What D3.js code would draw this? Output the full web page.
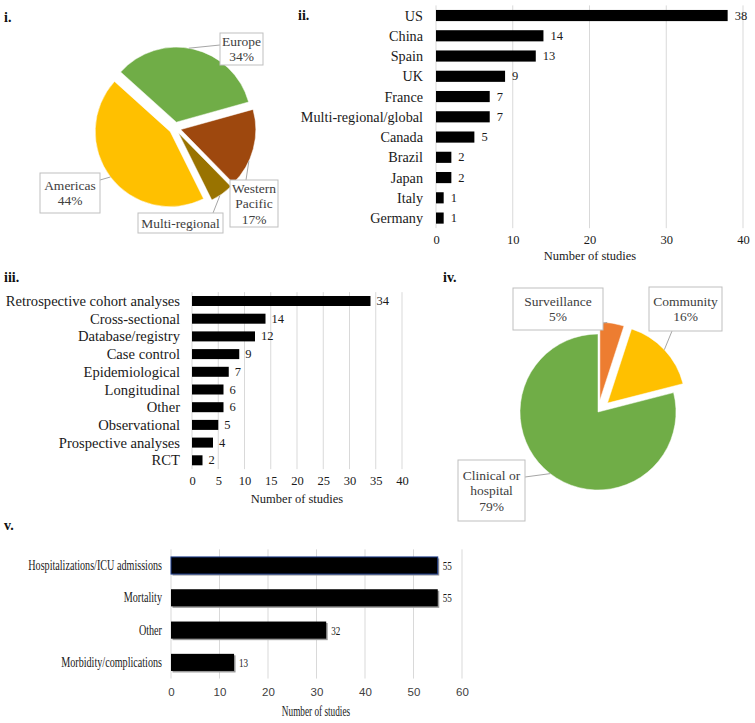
<!DOCTYPE html>
<html><head><meta charset="utf-8">
<script src="https://cdn.jsdelivr.net/npm/d3@7"></script>
<style>
body{margin:0;background:#fff;}
svg{display:block;}
</style></head>
<body>
<svg id="c" width="755" height="723"></svg>
<script>
// ---------- DATA ----------
const regionLabels = ["Europe", "Western Pacific", "Multi-regional", "Americas"];
const regionPct = [34, 17, 5, 44];
const regionColors = ["#70ad47", "#9e480e", "#997300", "#ffc000"];

const countries = ["US","China","Spain","UK","France","Multi-regional/global","Canada","Brazil","Japan","Italy","Germany"];
const countryCounts = [38,14,13,9,7,7,5,2,2,1,1];
const countryTicks = [0,10,20,30,40];

const designs = ["Retrospective cohort analyses","Cross-sectional","Database/registry","Case control","Epidemiological","Longitudinal","Other","Observational","Prospective analyses","RCT"];
const designCounts = [34,14,12,9,7,6,6,5,4,2];
const designTicks = [0,5,10,15,20,25,30,35,40];

const settingLabels = ["Surveillance","Community","Clinical or hospital"];
const settingPct = [5,16,79];
const settingColors = ["#ed7d31","#ffc000","#70ad47"];

const outcomes = ["Hospitalizations/ICU admissions","Mortality","Other","Morbidity/complications"];
const outcomeCounts = [55,55,32,13];
const outcomeTicks = [0,10,20,30,40,50,60];

const SERIF = '"Liberation Serif","Times New Roman",serif';
const SANS = '"Liberation Sans","Open Sans",sans-serif';
const svg = d3.select("#c").style("font-family", SERIF);
const deg = Math.PI/180;
const grid = "#d9d9d9";
const txt = "#1a1a1a";

function panelLabel(t, x, y){
  svg.append("text").attr("x",x).attr("y",y).style("font-family",SERIF).attr("font-weight","bold").attr("font-size",14).attr("fill","#111").text(t);
}
panelLabel("i.",4,22); panelLabel("ii.",298,20); panelLabel("iii.",4,282); panelLabel("iv.",443,282); panelLabel("v.",4,530);

// ---------- generic bar chart ----------
function barChart(o){
  const x = d3.scaleLinear().domain([0, o.ticks[o.ticks.length-1]]).range([o.x0, o.x1]);
  const y = d3.scaleBand().domain(o.cats).range([o.y0, o.y1]).paddingInner(o.pad).paddingOuter(o.pad/2);
  const g = svg.append("g");
  g.selectAll("line.grid").data(o.ticks).join("line")
    .attr("x1",d=>x(d)).attr("x2",d=>x(d)).attr("y1",o.y0).attr("y2",o.y1)
    .attr("stroke",grid).attr("stroke-width",1);
  const ax = g.append("g").attr("transform",`translate(0,${o.y1})`)
    .call(d3.axisBottom(x).tickValues(o.ticks).tickSize(0).tickPadding(o.tickPad));
  ax.select(".domain").remove();
  ax.selectAll("text").style("font-family",o.tickFont).attr("font-size",o.tickSize).attr("fill",o.tickColor);
  if(o.shadow){
    g.selectAll("rect.sh").data(o.vals).join("rect")
      .attr("x",x(0)+1.5).attr("y",(d,i)=>y(o.cats[i])+1.5)
      .attr("width",d=>x(d)-x(0)).attr("height",y.bandwidth()).attr("fill","#9a9a9a");
  }
  g.selectAll("rect.bar").data(o.vals).join("rect")
    .attr("x",x(0)).attr("y",(d,i)=>y(o.cats[i]))
    .attr("width",d=>x(d)-x(0)).attr("height",y.bandwidth()).attr("fill","#000")
    .attr("stroke",(d,i)=>o.firstStroke && i===0 ? o.firstStroke : "none").attr("stroke-width",1);
  const sx = o.sx || 1;
  g.selectAll("text.cat").data(o.cats).join("text")
    .attr("transform",d=>`translate(${x(0)-o.catGap},${y(d)+y.bandwidth()/2}) scale(${sx},1)`)
    .attr("text-anchor","end").attr("dominant-baseline","central")
    .attr("font-size",o.catSize).attr("fill",txt).text(d=>d);
  g.selectAll("text.val").data(o.vals).join("text")
    .attr("transform",(d,i)=>`translate(${x(d)+o.valGap},${y(o.cats[i])+y.bandwidth()/2}) scale(${sx},1)`)
    .attr("dominant-baseline","central")
    .attr("font-size",o.valSize).attr("fill",txt).text(d=>d);
  g.append("text").attr("transform",`translate(${o.titleX},${o.titleY}) scale(${o.titleSx||1},1)`)
    .attr("text-anchor","middle").attr("font-size",o.titleSize).attr("fill",txt).text("Number of studies");
}

barChart({cats:countries, vals:countryCounts, ticks:countryTicks, x0:436, x1:743, y0:5.4, y1:228.2, pad:0.45,
  tickPad:7, tickFont:SERIF, tickSize:12.5, tickColor:txt, catGap:13, catSize:14.2, valGap:7, valSize:12.5,
  titleX:590, titleY:260, titleSize:12.5});

barChart({cats:designs, vals:designCounts, ticks:designTicks, x0:192, x1:402, y0:292.15, y1:469.15, pad:0.435,
  tickPad:7, tickFont:SERIF, tickSize:12.5, tickColor:txt, catGap:12, catSize:14.6, valGap:6, valSize:12.5,
  titleX:297, titleY:503, titleSize:12.5});

barChart({cats:outcomes, vals:outcomeCounts, ticks:outcomeTicks, x0:171, x1:462, y0:549.35, y1:678.55, pad:0.47,
  tickPad:9, tickFont:SANS, tickSize:11.5, tickColor:"#404040", catGap:9, catSize:14.5, valGap:5, valSize:13,
  sx:0.7, shadow:true, firstStroke:"#1f3f8f", titleX:316, titleY:716, titleSize:14, titleSx:0.66});

// ---------- generic pie ----------
function pieChart(o){
  const pie = d3.pie().sort(null).value(d=>d).startAngle(o.start).endAngle(o.start+2*Math.PI);
  const arcs = pie(o.vals);
  const arc = d3.arc().innerRadius(0).outerRadius(o.r);
  const g = svg.append("g").attr("transform",`translate(${o.cx},${o.cy})`);
  arcs.forEach((a,i)=>{
    const mid = (a.startAngle+a.endAngle)/2;
    const e = o.explode[i];
    const ox = e*Math.sin(mid), oy = -e*Math.cos(mid);
    g.append("path").attr("d",arc(a)).attr("fill",o.colors[i])
      .attr("transform",`translate(${ox},${oy})`).attr("stroke","#fff").attr("stroke-width",0.5);
    const L = o.labels[i];
    const ang = a.startAngle + (a.endAngle-a.startAngle)*L.t;
    const px = o.cx+ox+o.r*Math.sin(ang), py = o.cy+oy-o.r*Math.cos(ang);
    svg.append("line").attr("x1",px).attr("y1",py).attr("x2",L.ax).attr("y2",L.ay)
      .attr("stroke","#a6a6a6").attr("stroke-width",1);
    svg.append("rect").attr("x",L.bx).attr("y",L.by).attr("width",L.bw).attr("height",L.bh)
      .attr("fill","#fff").attr("stroke","#bfbfbf").attr("stroke-width",1);
    const t = svg.append("text").attr("text-anchor","middle").attr("font-size",13.5).attr("fill","#404040");
    const lines = L.lines;
    const lh = 15.5;
    const top = L.by + L.bh/2 - (lines.length-1)*lh/2;
    lines.forEach((s,k)=>{
      t.append("tspan").attr("x",L.bx+L.bw/2).attr("y",top+k*lh).attr("dominant-baseline","central").text(s);
    });
  });
}

pieChart({vals:regionPct, colors:regionColors, cx:175, cy:128, r:75, start:-48*deg, explode:[6,6,6,6],
  labels:[
    {t:0.47, lines:["Europe", regionPct[0]+"%"], bx:220,by:33,bw:43,bh:32, ax:220, ay:45},
    {t:0.66, lines:["Western","Pacific", regionPct[1]+"%"], bx:230,by:180,bw:48,bh:47, ax:246, ay:180},
    {t:0.6, lines:["Multi-regional"], bx:138,by:213,bw:85,bh:20, ax:213, ay:213},
    {t:0.5, lines:["Americas", regionPct[3]+"%"], bx:40,by:173,bw:60,bh:40, ax:100, ay:180}
  ]});

pieChart({vals:settingPct, colors:settingColors, cx:598, cy:412, r:78, start:0, explode:[12,13,0],
  labels:[
    {t:0.3, lines:["Surveillance", settingPct[0]+"%"], bx:513,by:288,bw:90,bh:42, ax:603, ay:323},
    {t:0.5, lines:["Community", settingPct[1]+"%"], bx:649,by:287,bw:73,bh:44, ax:672, ay:331},
    {t:0.5, lines:["Clinical  or","hospital", settingPct[2]+"%"], bx:458,by:460,bw:67,bh:61, ax:525, ay:477}
  ]});
</script>
</body></html>
